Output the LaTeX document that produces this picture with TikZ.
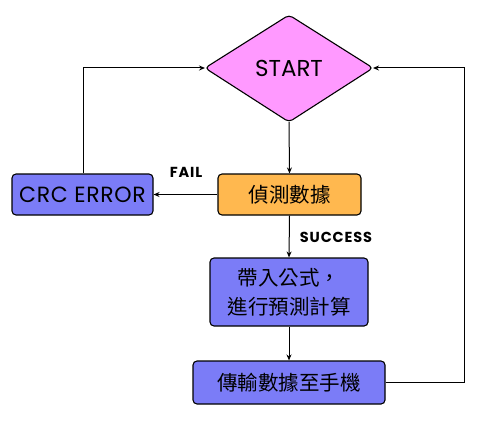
\documentclass[tikz,border=0pt]{standalone}
\usepackage{fontspec}
\setmainfont{Poppins}
\newfontfamily\cjk{Noto Sans CJK TC}
\usetikzlibrary{arrows.meta}
\definecolor{pinkfill}{HTML}{FF99FF}
\definecolor{bluefill}{HTML}{7B7CF7}
\definecolor{orangefill}{HTML}{FFB84F}
\begin{document}
\begin{tikzpicture}[x=1pt,y=-1pt,
  box/.style={draw=black,line width=1.1pt,rounded corners=4pt,inner sep=0pt},
  cjkfont/.style={font=\cjk\fontsize{20.5}{29}\selectfont},
  conn/.style={draw=black,line width=1pt,-{Stealth[length=6pt,width=5pt]}},
  lbl/.style={font=\fontsize{14.5}{16}\selectfont\bfseries\addfontfeature{LetterSpace=6}}]
\useasboundingbox (0,0) rectangle (486,425);
% diamond
\draw[line width=1.1pt,fill=pinkfill,rounded corners=4pt]
  (289,15) -- (373,68) -- (289,122) -- (205,68) -- cycle;
\node[font=\fontsize{23}{26}\selectfont] (start) at (289,68) {START};
\coordinate (dtop) at (289,15);
\coordinate (dright) at (373,68);
\coordinate (dbottom) at (289,122);
\coordinate (dleft) at (205,68);
% boxes
\node[box,fill=bluefill,minimum width=141pt,minimum height=41pt,font=\fontsize{22}{25}\selectfont\addfontfeature{LetterSpace=3}] (crc) at (82.5,194.5) {CRC ERROR};
\node[box,fill=orangefill,minimum width=143pt,minimum height=41pt,cjkfont] (det) at (289.5,194.5) {偵測數據};
\node[box,fill=bluefill,minimum width=158pt,minimum height=68pt,align=center,cjkfont] (calc) at (289,292) {帶入公式，\\進行預測計算};
\node[box,fill=bluefill,minimum width=192pt,minimum height=43pt,cjkfont] (send) at (289,382.5) {傳輸數據至手機};
% labels
\node[lbl] (fail) at (186,172) {FAIL};
\node[lbl] (succ) at (336,237) {SUCCESS};
% connectors
\draw[conn] (dbottom) -- (det.north);
\draw[conn] (det.west) -- (crc.east);
\draw[conn] (det.south) -- (calc.north);
\draw[conn] (calc.south) -- (send.north);
\draw[conn] (crc.north -| 83,0) -- (83,68) -- (dleft);
\draw[conn] (send.east) -- (464,382.5) -- (464,68) -- (dright);
\end{tikzpicture}
\end{document}
